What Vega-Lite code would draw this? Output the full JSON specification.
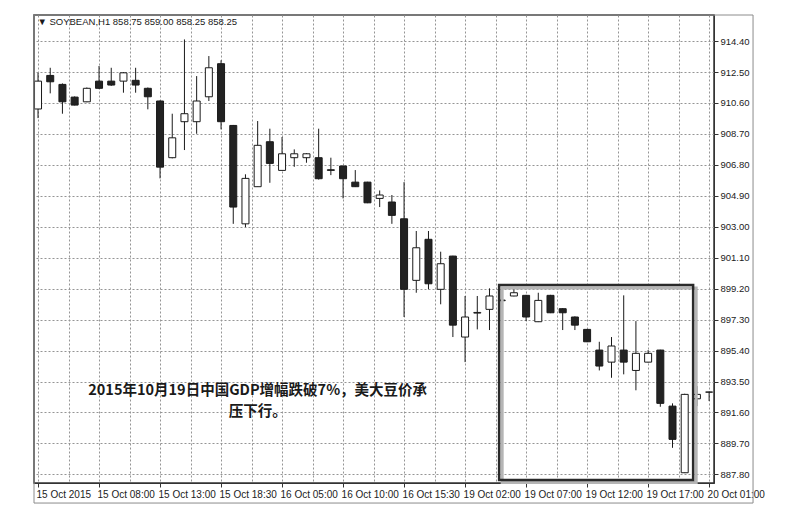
{
  "$schema": "https://vega.github.io/schema/vega-lite/v6.json",
  "width": 680,
  "height": 468,
  "padding": {"left": 33, "top": 14, "right": 5, "bottom": 5},
  "background": "white",
  "config": {
    "view": {"stroke": "#333333", "strokeWidth": 1.5},
    "font": "Liberation Sans",
    "axis": {"grid": true, "gridColor": "#959595", "gridDash": [2, 2], "gridWidth": 1, "gridOpacity": 1, "labelOverlap": false}
  },
  "datasets": {
    "candles": [
      {"i": 0, "o": 910.23, "h": 912.44, "l": 909.67, "c": 911.94},
      {"i": 1, "o": 912.29, "h": 912.76, "l": 911.19, "c": 911.90},
      {"i": 2, "o": 911.74, "h": 911.80, "l": 909.94, "c": 910.67},
      {"i": 3, "o": 910.96, "h": 911.00, "l": 910.45, "c": 910.47},
      {"i": 4, "o": 910.67, "h": 911.55, "l": 910.65, "c": 911.50},
      {"i": 5, "o": 911.94, "h": 912.87, "l": 911.45, "c": 911.50},
      {"i": 6, "o": 911.94, "h": 912.76, "l": 911.65, "c": 911.70},
      {"i": 7, "o": 911.94, "h": 912.50, "l": 911.23, "c": 912.45},
      {"i": 8, "o": 911.99, "h": 912.76, "l": 911.23, "c": 911.70},
      {"i": 9, "o": 911.50, "h": 911.55, "l": 910.21, "c": 910.98},
      {"i": 10, "o": 910.72, "h": 910.75, "l": 905.97, "c": 906.66},
      {"i": 11, "o": 907.24, "h": 909.94, "l": 907.20, "c": 908.46},
      {"i": 12, "o": 909.45, "h": 914.50, "l": 907.71, "c": 909.94},
      {"i": 13, "o": 909.45, "h": 912.25, "l": 908.71, "c": 910.72},
      {"i": 14, "o": 910.98, "h": 913.48, "l": 910.72, "c": 912.76},
      {"i": 15, "o": 913.01, "h": 913.22, "l": 908.98, "c": 909.45},
      {"i": 16, "o": 909.22, "h": 909.25, "l": 903.18, "c": 904.21},
      {"i": 17, "o": 903.18, "h": 906.22, "l": 902.98, "c": 905.97},
      {"i": 18, "o": 905.46, "h": 909.49, "l": 905.46, "c": 908.00},
      {"i": 19, "o": 908.22, "h": 909.02, "l": 905.70, "c": 906.89},
      {"i": 20, "o": 906.46, "h": 908.51, "l": 906.46, "c": 907.48},
      {"i": 21, "o": 907.24, "h": 907.75, "l": 906.68, "c": 907.48},
      {"i": 22, "o": 907.24, "h": 907.52, "l": 906.93, "c": 907.48},
      {"i": 23, "o": 907.24, "h": 909.02, "l": 905.90, "c": 905.95},
      {"i": 24, "o": 906.50, "h": 907.24, "l": 906.17, "c": 906.46},
      {"i": 25, "o": 906.73, "h": 906.75, "l": 904.74, "c": 905.95},
      {"i": 26, "o": 905.74, "h": 906.48, "l": 905.44, "c": 905.46},
      {"i": 27, "o": 905.74, "h": 905.76, "l": 904.45, "c": 904.47},
      {"i": 28, "o": 904.74, "h": 905.23, "l": 904.21, "c": 904.95},
      {"i": 29, "o": 904.52, "h": 904.95, "l": 903.18, "c": 903.70},
      {"i": 30, "o": 903.49, "h": 905.74, "l": 897.46, "c": 899.16},
      {"i": 31, "o": 899.71, "h": 902.74, "l": 898.95, "c": 901.71},
      {"i": 32, "o": 902.23, "h": 902.74, "l": 899.16, "c": 899.50},
      {"i": 33, "o": 899.16, "h": 901.47, "l": 898.24, "c": 900.73},
      {"i": 34, "o": 901.20, "h": 901.22, "l": 896.23, "c": 896.96},
      {"i": 35, "o": 896.23, "h": 898.75, "l": 894.69, "c": 897.46},
      {"i": 36, "o": 897.70, "h": 898.75, "l": 896.70, "c": 897.74},
      {"i": 37, "o": 897.93, "h": 899.22, "l": 896.66, "c": 898.75},
      {"i": 38, "o": 898.50, "h": 898.70, "l": 898.30, "c": 898.46},
      {"i": 39, "o": 898.75, "h": 899.22, "l": 898.73, "c": 898.95},
      {"i": 40, "o": 898.79, "h": 898.82, "l": 897.21, "c": 897.46},
      {"i": 41, "o": 897.17, "h": 898.95, "l": 897.15, "c": 898.48},
      {"i": 42, "o": 898.79, "h": 898.82, "l": 897.70, "c": 897.72},
      {"i": 43, "o": 897.97, "h": 898.00, "l": 896.66, "c": 897.72},
      {"i": 44, "o": 897.46, "h": 897.50, "l": 896.66, "c": 896.96},
      {"i": 45, "o": 896.70, "h": 896.72, "l": 895.92, "c": 895.94},
      {"i": 46, "o": 895.43, "h": 895.94, "l": 894.18, "c": 894.45},
      {"i": 47, "o": 894.69, "h": 896.23, "l": 893.73, "c": 895.68},
      {"i": 48, "o": 895.43, "h": 898.79, "l": 893.94, "c": 894.69},
      {"i": 49, "o": 894.18, "h": 897.21, "l": 892.96, "c": 895.23},
      {"i": 50, "o": 894.69, "h": 895.43, "l": 894.67, "c": 895.23},
      {"i": 51, "o": 895.43, "h": 895.45, "l": 891.95, "c": 892.16},
      {"i": 52, "o": 891.99, "h": 892.16, "l": 889.43, "c": 889.95},
      {"i": 53, "o": 887.90, "h": 892.75, "l": 887.88, "c": 892.71},
      {"i": 54, "o": 892.44, "h": 893.22, "l": 891.99, "c": 892.71},
      {"i": 55, "o": 892.85, "h": 892.87, "l": 892.30, "c": 892.85}
    ]
  },
  "layer": [
    {
      "data": {"name": "candles"},
      "mark": {"type": "rule", "color": "#1a1a1a", "strokeWidth": 1},
      "encoding": {
        "x": {
          "field": "i",
          "type": "quantitative",
          "scale": {"domain": [-0.33, 55.4], "nice": false, "zero": false, "padding": 0},
          "axis": {
            "title": null,
            "orient": "bottom",
            "values": [0, 2.5, 5, 7.5, 10, 12.5, 15, 17.5, 20, 22.5, 25, 27.5, 30, 32.5, 35, 37.5, 40, 42.5, 45, 47.5, 50, 52.5, 55],
            "tickCount": 100,
            "labelExpr": "datum.value % 5 === 0 ? ['15 Oct 2015','15 Oct 08:00','15 Oct 13:00','15 Oct 18:30','16 Oct 05:00','16 Oct 10:00','16 Oct 15:30','19 Oct 02:00','19 Oct 07:00','19 Oct 12:00','19 Oct 17:00','20 Oct 01:00'][round(datum.value / 5)] : ''",
            "labelAlign": "left",
            "labelOverlap": false,
            "labelBound": false,
            "labelFlush": false,
            "labelFontSize": 10,
            "labelColor": "#222222",
            "labelPadding": 2,
            "labelOffset": -2,
            "tickSize": 4,
            "tickColor": "#333333",
            "tickOpacity": {"condition": {"test": "datum.value % 5 === 0", "value": 1}, "value": 0},
            "domainColor": "#333333",
            "grid": true
          }
        },
        "y": {
          "field": "l",
          "type": "quantitative",
          "scale": {"domain": [887.27, 916.0], "nice": false, "zero": false, "padding": 0},
          "axis": {
            "title": null,
            "orient": "right",
            "values": [887.8, 889.7, 891.6, 893.5, 895.4, 897.3, 899.2, 901.1, 903.0, 904.9, 906.8, 908.7, 910.6, 912.5, 914.4],
            "tickCount": 100,
            "format": ".2f",
            "labelOverlap": false,
            "labelBound": false,
            "labelFlush": false,
            "labelFontSize": 9.5,
            "labelColor": "#222222",
            "labelPadding": 2,
            "tickSize": 4,
            "tickColor": "#333333",
            "domainColor": "#333333",
            "grid": true
          }
        },
        "y2": {"field": "h"}
      }
    },
    {
      "data": {"name": "candles"},
      "mark": {"type": "bar", "size": 7, "stroke": "#1a1a1a", "strokeWidth": 1},
      "encoding": {
        "x": {"field": "i", "type": "quantitative"},
        "y": {"field": "o", "type": "quantitative"},
        "y2": {"field": "c"},
        "fill": {"condition": {"test": "datum.c >= datum.o", "value": "#ffffff"}, "value": "#222222"}
      }
    },
    {
      "data": {"values": [{"x1": -0.33, "x2": 58.6, "y1": 916.0, "y2": 886.04}]},
      "mark": {"type": "rect", "fill": null, "fillOpacity": 0, "stroke": "#8c8c8c", "strokeWidth": 1, "clip": false},
      "encoding": {
        "x": {"field": "x1", "type": "quantitative"},
        "x2": {"field": "x2"},
        "y": {"field": "y1", "type": "quantitative"},
        "y2": {"field": "y2"}
      }
    },
    {
      "data": {"values": [{"x1": 38.04, "x2": 53.94, "y1": 899.24, "y2": 887.3}]},
      "mark": {"type": "rect", "fill": null, "fillOpacity": 0, "stroke": "#b5b5b5", "strokeWidth": 3},
      "encoding": {
        "x": {"field": "x1", "type": "quantitative"},
        "x2": {"field": "x2"},
        "y": {"field": "y1", "type": "quantitative"},
        "y2": {"field": "y2"}
      }
    },
    {
      "data": {"values": [{"x1": 37.79, "x2": 53.69, "y1": 899.42, "y2": 887.45}]},
      "mark": {"type": "rect", "fill": null, "fillOpacity": 0, "stroke": "#2a2a2a", "strokeWidth": 2.5},
      "encoding": {
        "x": {"field": "x1", "type": "quantitative"},
        "x2": {"field": "x2"},
        "y": {"field": "y1", "type": "quantitative"},
        "y2": {"field": "y2"}
      }
    },
    {
      "data": {"values": [{"x": 18.0, "y": 892.91, "label": "2015年10月19日中国GDP增幅跌破7%，美大豆价承\n压下行。"}]},
      "mark": {"type": "text", "align": "center", "baseline": "middle", "font": "Noto Sans CJK SC", "fontSize": 14.5, "fontWeight": "bold", "color": "#1a1a1a", "lineBreak": "\n", "lineHeight": 21},
      "encoding": {
        "x": {"field": "x", "type": "quantitative"},
        "y": {"field": "y", "type": "quantitative"},
        "text": {"field": "label"}
      }
    },
    {
      "data": {"values": [{"x": -0.05, "y": 915.57, "label": "▼ SOYBEAN,H1  858.75 859.00 858.25 858.25"}]},
      "mark": {"type": "text", "align": "left", "baseline": "middle", "font": "Liberation Sans", "fontSize": 9.5, "color": "#1a1a1a"},
      "encoding": {
        "x": {"field": "x", "type": "quantitative"},
        "y": {"field": "y", "type": "quantitative"},
        "text": {"field": "label"}
      }
    }
  ]
}
